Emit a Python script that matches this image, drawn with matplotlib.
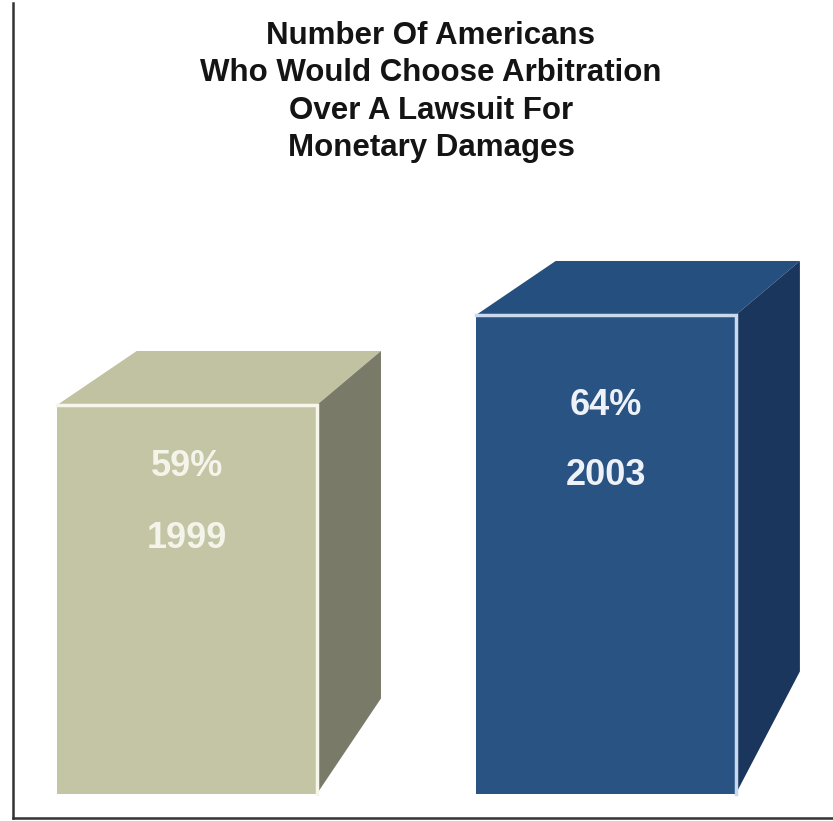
import matplotlib.pyplot as plt
from matplotlib.patches import Polygon, Rectangle

# data
years = ['1999', '2003']
shares = [59, 64]

title = ('Number Of Americans\nWho Would Choose Arbitration\n'
         'Over A Lawsuit For\nMonetary Damages')

# colours per bar
front_colors = ['#c4c5a5', '#285382']
top_colors = ['#c1c2a1', '#254f7e']
side_colors = ['#7a7a68', '#1b365c']
edge_colors = ['#f6f6ea', '#c9d9ee']
text_colors = ['#f4f4ea', '#eef2f8']

# layout of the fake 3d boxes (axis units)
base = 37.4
width = 0.62
depth_x = 0.153
depth_x_left = 0.19
depth_y = 3.0
side_cut = [5.3, 6.8]
label_drop = [(3.4, 7.4), (5.0, 8.9)]

fig = plt.figure(figsize=(8.33, 8.21), dpi=100)
ax = fig.add_axes([13 / 833, 3 / 821, 820 / 833, 815 / 821])
ax.set_xlim(-0.4153, 1.542)
ax.set_ylim(36.06, 81.33)
for s in ['top', 'right']:
    ax.spines[s].set_visible(False)
for s in ['left', 'bottom']:
    ax.spines[s].set_color('#333333')
    ax.spines[s].set_linewidth(1.8)
ax.set_xticks([])
ax.set_yticks([])

for i, v in enumerate(shares):
    x0 = i - width / 2
    x1 = i + width / 2
    # front face
    ax.add_patch(Rectangle((x0, base), width, v - base, facecolor=front_colors[i],
                           edgecolor='none', zorder=2))
    # top face
    ax.add_patch(Polygon([(x0, v), (x1, v), (x1 + depth_x, v + depth_y),
                          (x0 + depth_x_left, v + depth_y)],
                         closed=True, facecolor=top_colors[i], edgecolor='none', zorder=2))
    # side face
    ax.add_patch(Polygon([(x1, v), (x1 + depth_x, v + depth_y),
                          (x1 + depth_x, base + side_cut[i]), (x1, base)],
                         closed=True, facecolor=side_colors[i], edgecolor='none', zorder=2))
    # light edge on top and right of the front face
    ax.plot([x0, x1, x1], [v, v, base], color=edge_colors[i], lw=2.5,
            solid_joinstyle='miter', zorder=3)

    ax.text(i, v - label_drop[i][0], f'{v}%', ha='center', va='center',
            fontsize=26, fontweight='bold', family='Liberation Sans',
            color=text_colors[i], zorder=4)
    ax.text(i, v - label_drop[i][1], years[i], ha='center', va='center',
            fontsize=26, fontweight='bold', family='Liberation Sans',
            color=text_colors[i], zorder=4)

fig.text(431 / 833, 1 - 92 / 821, title, ha='center', va='center',
         fontsize=22.5, fontweight='bold', family='Liberation Sans',
         color='#141414', linespacing=1.33)

fig.savefig('out.png', dpi=100)
